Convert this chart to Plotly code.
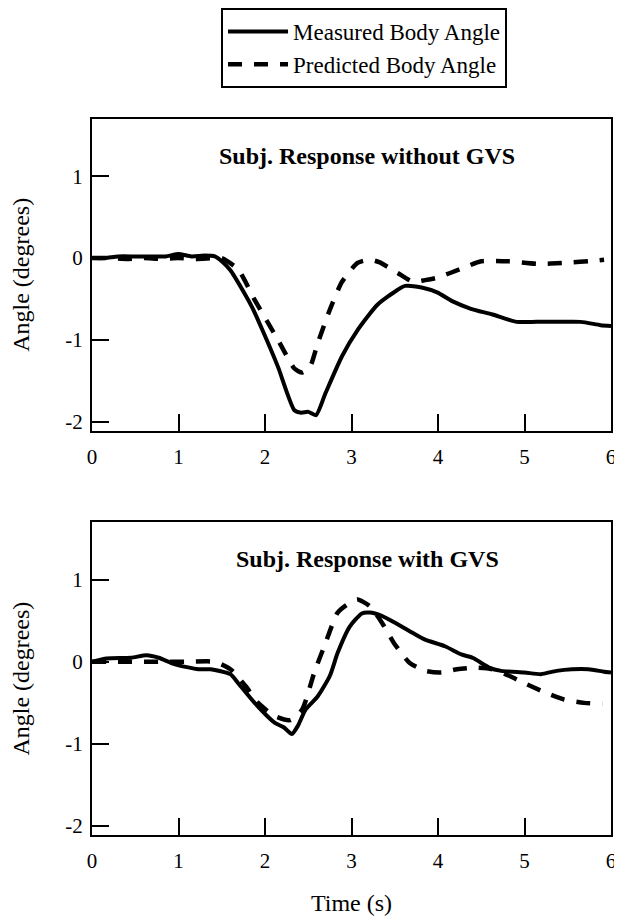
import plotly.graph_objects as go

# ---------------- data ----------------
# Top panel: Subj. Response without GVS
t_meas_top = [0.0, 0.15, 0.3, 0.5, 0.7, 0.85, 1.0, 1.15, 1.3, 1.42, 1.5, 1.6, 1.74, 1.85, 1.97, 2.15, 2.34,
              2.42, 2.5, 2.59, 2.7, 2.89, 3.07, 3.3, 3.53, 3.62, 3.81, 3.99, 4.17, 4.38, 4.63, 4.91, 5.14,
              5.37, 5.65, 5.88, 6.0]
meas_top = [0.0, 0.0, 0.02, 0.02, 0.02, 0.02, 0.05, 0.02, 0.03, 0.02, -0.04, -0.15, -0.39, -0.6, -0.88, -1.33,
            -1.86, -1.89, -1.88, -1.92, -1.65, -1.2, -0.88, -0.57, -0.39, -0.34, -0.36, -0.42, -0.53,
            -0.62, -0.69, -0.78, -0.78, -0.78, -0.78, -0.82, -0.83]

t_pred_top = [0.0, 0.2, 0.4, 0.6, 0.8, 1.0, 1.2, 1.4, 1.5, 1.69, 1.88, 2.15, 2.34, 2.43, 2.52, 2.61, 2.75,
              2.89, 3.07, 3.21, 3.32, 3.53, 3.71, 3.85, 3.99, 4.27, 4.5, 4.82, 5.14, 5.46, 5.83, 5.92]
pred_top = [0.0, 0.0, -0.01, 0.0, -0.01, 0.0, -0.01, 0.0, 0.0, -0.14, -0.51, -1.0, -1.35, -1.4, -1.33, -1.04,
            -0.63, -0.29, -0.06, -0.02, -0.05, -0.18, -0.29, -0.27, -0.24, -0.13, -0.04, -0.04, -0.07,
            -0.06, -0.03, -0.02]

# Bottom panel: Subj. Response with GVS
t_meas_bot = [0.0, 0.17, 0.45, 0.63, 0.77, 0.96, 1.23, 1.37, 1.6, 1.69, 1.88, 2.11, 2.22, 2.31, 2.38, 2.47,
              2.61, 2.75, 2.84, 2.98, 3.12, 3.21, 3.35, 3.53, 3.71, 3.85, 4.08, 4.27, 4.4, 4.59, 4.73, 5.0,
              5.19, 5.37, 5.55, 5.74, 5.92, 6.0]
meas_bot = [0.0, 0.04, 0.05, 0.08, 0.05, -0.03, -0.09, -0.09, -0.15, -0.26, -0.5, -0.74, -0.8, -0.88, -0.78,
            -0.58, -0.42, -0.17, 0.11, 0.43, 0.59, 0.6, 0.56, 0.46, 0.35, 0.27, 0.19, 0.09, 0.05, -0.07,
            -0.11, -0.13, -0.15, -0.11, -0.09, -0.09, -0.12, -0.13]

t_pred_bot = [0.0, 0.3, 0.6, 0.77, 1.1, 1.42, 1.6, 1.78, 1.92, 2.11, 2.29, 2.43, 2.57, 2.7, 2.84, 2.98, 3.07,
              3.21, 3.35, 3.49, 3.67, 3.85, 4.04, 4.22, 4.45, 4.63, 4.82, 5.0, 5.23, 5.46, 5.69, 5.9]
pred_bot = [0.0, 0.0, 0.0, 0.0, 0.0, 0.0, -0.09, -0.3, -0.5, -0.66, -0.71, -0.58, -0.13, 0.23, 0.6, 0.72,
            0.76, 0.68, 0.48, 0.23, -0.01, -0.11, -0.13, -0.09, -0.07, -0.09, -0.17, -0.26, -0.37, -0.46,
            -0.5, -0.51]

x_ticks = [0, 1, 2, 3, 4, 5, 6]
y_ticks = [-2, -1, 0, 1]
panel_titles = ["Subj. Response without GVS", "Subj. Response with GVS"]
series_names = ["Measured Body Angle", "Predicted Body Angle"]

FONT = "Liberation Serif"

fig = go.Figure()

solid = dict(color="black", width=4, shape="spline", smoothing=0.6)
dashed = dict(color="black", width=4.5, dash="14px,12px", shape="spline", smoothing=0.6)

fig.add_trace(go.Scatter(x=t_meas_top, y=meas_top, mode="lines", line=solid, name=series_names[0],
                         xaxis="x", yaxis="y"))
fig.add_trace(go.Scatter(x=t_pred_top, y=pred_top, mode="lines", line=dashed, name=series_names[1],
                         xaxis="x", yaxis="y"))
fig.add_trace(go.Scatter(x=t_meas_bot, y=meas_bot, mode="lines", line=solid, name=series_names[0],
                         showlegend=False, xaxis="x2", yaxis="y2"))
fig.add_trace(go.Scatter(x=t_pred_bot, y=pred_bot, mode="lines", line=dashed, name=series_names[1],
                         showlegend=False, xaxis="x2", yaxis="y2"))

tickfont = dict(family=FONT, size=21, color="black")
titlefont = dict(family=FONT, size=24, color="black")

xcommon = dict(range=[0, 6], tickvals=x_ticks, ticktext=[str(v) for v in x_ticks],
               ticks="inside", ticklen=17, tickwidth=2, tickcolor="black",
               showline=True, linewidth=2, linecolor="black", mirror=True,
               showgrid=False, zeroline=False, tickfont=tickfont, ticklabelstandoff=6)
ycommon = dict(range=[-2.11, 1.70], tickvals=y_ticks, ticktext=[str(v) for v in y_ticks],
               ticks="inside", ticklen=17, tickwidth=2, tickcolor="black",
               showline=True, linewidth=2, linecolor="black", mirror=True,
               showgrid=False, zeroline=False, tickfont=tickfont, ticklabelstandoff=3,
               title=dict(text="Angle (degrees)", font=titlefont, standoff=30))

# The page body adds an 8px offset; the figure is sized so it fills the 622x916 window.
fig.update_layout(
    width=614, height=908,
    margin=dict(l=84, r=11, t=111, b=81, autoexpand=False),
    paper_bgcolor="white", plot_bgcolor="white",
    font=dict(family=FONT, color="black"),
    xaxis=dict(domain=[0, 1], anchor="y", **xcommon),
    yaxis=dict(domain=[0.5647, 1], anchor="x", **ycommon),
    xaxis2=dict(domain=[0, 1], anchor="y2", **xcommon,
                title=dict(text="Time (s)", font=titlefont, standoff=22)),
    yaxis2=dict(domain=[0, 0.4367], anchor="x2", **ycommon),
    legend=dict(x=0.2486, y=1.155, xanchor="left", yanchor="top",
                bordercolor="black", borderwidth=2, bgcolor="white",
                font=dict(family=FONT, size=23, color="black"),
                itemwidth=60, tracegroupgap=0),
    showlegend=True,
)

fig.add_annotation(x=3.18, y=1.25, xref="x", yref="y", text="<b>" + panel_titles[0] + "</b>",
                   showarrow=False, font=dict(family=FONT, size=24, color="black"))
fig.add_annotation(x=3.18, y=1.25, xref="x2", yref="y2", text="<b>" + panel_titles[1] + "</b>",
                   showarrow=False, font=dict(family=FONT, size=24, color="black"))

fig.write_html("out.html")
